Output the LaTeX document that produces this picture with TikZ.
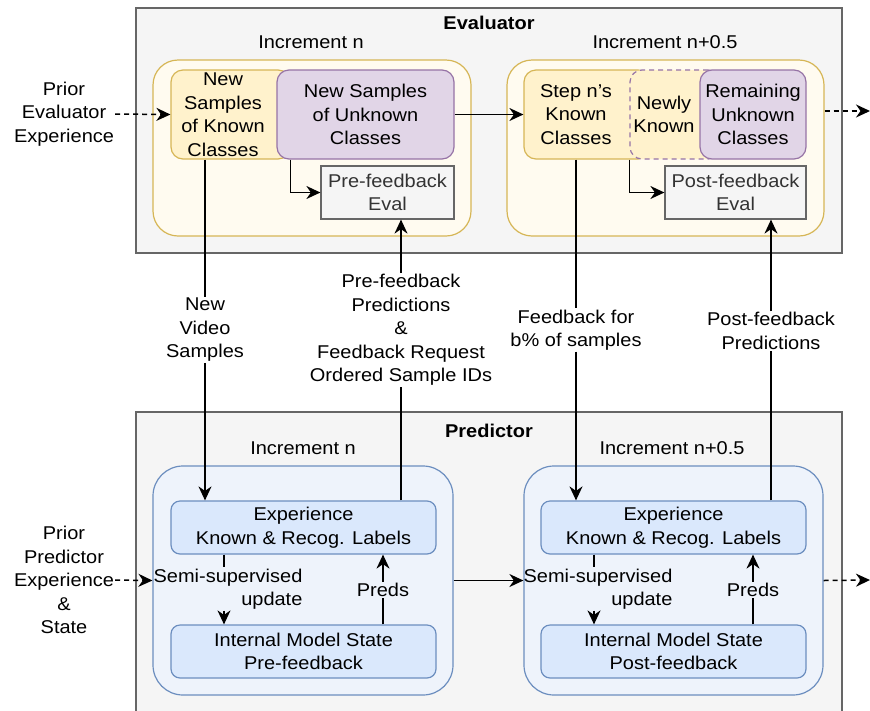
\documentclass[tikz,border=0pt]{standalone}
\usepackage{fontspec}
\setmainfont{Liberation Sans}[FakeStretch=1.08]
\usetikzlibrary{arrows.meta}
\definecolor{grayfill}{HTML}{F5F5F5}
\definecolor{graydraw}{HTML}{666666}
\definecolor{yelfill}{HTML}{FFF2CC}
\definecolor{yeldraw}{HTML}{D6B656}
\definecolor{yellight}{HTML}{FFFBF0}
\definecolor{purfill}{HTML}{E1D5E7}
\definecolor{purdraw}{HTML}{9673A6}
\definecolor{bluefill}{HTML}{DAE8FC}
\definecolor{bluedraw}{HTML}{6C8EBF}
\definecolor{bluelight}{HTML}{EEF3FB}
\definecolor{evaltext}{HTML}{333333}
\begin{document}
\begin{tikzpicture}[x=1pt,y=-1pt,font=\fontsize{18.5}{23.5}\selectfont,
  every node/.style={align=center,inner sep=1pt},
  outerbox/.style={draw=graydraw,fill=grayfill,line width=1.2pt,minimum width=706,inner sep=0pt},
  incbox/.style={draw=yeldraw,fill=yellight,line width=1.2pt,rounded corners=25pt,minimum height=176,inner sep=0pt},
  pincbox/.style={draw=bluedraw,fill=bluelight,line width=1.2pt,rounded corners=30pt,minimum height=229,inner sep=0pt},
  knownbox/.style={draw=yeldraw,fill=yelfill,line width=1.2pt,rounded corners=12pt,minimum height=89,inner sep=0pt},
  unkbox/.style={draw=purdraw,fill=purfill,line width=1.2pt,rounded corners=12pt,minimum height=89,inner sep=0pt},
  evalbox/.style={draw=graydraw,fill=grayfill,line width=1.2pt,minimum height=53,text=evaltext},
  predbox/.style={draw=bluedraw,fill=bluefill,line width=1.2pt,rounded corners=9pt,minimum width=265,minimum height=53},
  boxtitle/.style={font=\fontsize{18.5}{23.5}\selectfont\bfseries},
  line/.style={line width=1.5pt},
  tip/.tip={Stealth[length=14pt,width=13pt,inset=4.5pt]},
  conn/.style={line width=1.5pt,-tip},
  dconn/.style={line width=1.5pt,-tip,dash pattern=on 5pt off 4pt}]
\clip(0,0) rectangle (870,710);
\fill[white](0,0) rectangle (870,710);
% evaluator
\node[outerbox,minimum height=245](evaluator) at (489,130.5) {};
\node[boxtitle](evtitle) at (489,23) {Evaluator};
\node(evincn) at (311,42) {Increment n};
\node(evinch) at (665,42) {Increment n+0.5};
\node[incbox,minimum width=318](incL) at (312,148) {};
\node[incbox,minimum width=317](incR) at (665.5,148) {};
\node[knownbox,minimum width=119](knownL) at (230.5,114.5) {};
\node(knownLtxt) at (223,114.5) {New\\Samples\\of Known\\Classes};
\node[unkbox,minimum width=177](unkL) at (365.5,114.5) {New Samples\\of Unknown\\Classes};
\node[evalbox,minimum width=133](evalL) at (387.5,192.5) {Pre-feedback\\Eval};
\node[knownbox,minimum width=126](knownR) at (587,114.5) {};
\node(knownRtxt) at (576,114.5) {Step n's\\Known\\Classes};
\node[knownbox,draw=purdraw,dash pattern=on 5pt off 4pt,minimum width=90](newlyR) at (675,114.5) {};
\node(newlyRtxt) at (664,114.5) {Newly\\Known};
\node[unkbox,minimum width=106](remR) at (753,114.5) {Remaining\\Unknown\\Classes};
\node[evalbox,minimum width=141](evalR) at (735.5,192.5) {Post-feedback\\Eval};
\node(priorE) at (64,114) {Prior\\Evaluator\\Experience};
\coordinate(outE) at (870,111);
\draw[dconn](priorE.east)--(knownL.west);
\draw[conn](unkL.east)--(knownR.west);
\draw[dconn](incR.east|-outE)--(outE);
\draw[conn](unkL.south-|knownL.east)|-(evalL.west);
\draw[conn](newlyR.south west)|-(evalR.west);
% predictor
\node[outerbox,minimum height=308](predictor) at (489,566) {};
\node[boxtitle](prtitle) at (489,431) {Predictor};
\node(princn) at (303,448) {Increment n};
\node(princh) at (672,448) {Increment n+0.5};
\node[pincbox,minimum width=300](pincL) at (303,580.5) {};
\node[pincbox,minimum width=299](pincR) at (673.5,580.5) {};
\node[predbox](expL) at (303.5,527.5) {Experience\\Known \& Recog. Labels};
\node[predbox](imsL) at (303.5,651.5) {Internal Model State\\Pre-feedback};
\node[predbox](expR) at (673.5,527.5) {Experience\\Known \& Recog. Labels};
\node[predbox](imsR) at (673.5,651.5) {Internal Model State\\Post-feedback};
\node(priorP) at (64,580) {Prior\\Predictor\\Experience\\\&\\State};
\coordinate(outP) at (870,580);
\draw[dconn](priorP.east)--(pincL.west);
\draw[conn](pincL.east)--(pincR.west);
\draw[dconn](pincR.east)--(outP);
\coordinate(ssL) at (224,589);
\node[align=right](lblssL) at (228,589) {Semi-supervised\\update};
\draw[line](expL.south-|ssL)--(lblssL.north-|ssL);
\draw[conn](lblssL.south-|ssL)--(imsL.north-|ssL);
\node(lblprL) at (383,590) {Preds};
\draw[line](imsL.north-|lblprL)--(lblprL);
\draw[conn](lblprL)--(expL.south-|lblprL);
\coordinate(ssR) at (594,589);
\node[align=right](lblssR) at (598,589) {Semi-supervised\\update};
\draw[line](expR.south-|ssR)--(lblssR.north-|ssR);
\draw[conn](lblssR.south-|ssR)--(imsR.north-|ssR);
\node(lblprR) at (753,590) {Preds};
\draw[line](imsR.north-|lblprR)--(lblprR);
\draw[conn](lblprR)--(expR.south-|lblprR);
% between evaluator and predictor
\node(lblvid) at (205,330) {New\\Video\\Samples};
\draw[line](knownL.south-|lblvid)--(lblvid);
\draw[conn](lblvid)--(expL.north-|lblvid);
\node(lblpre) at (401,330) {Pre-feedback\\Predictions\\\&\\Feedback Request\\Ordered Sample IDs};
\draw[line](expL.north-|lblpre)--(lblpre);
\draw[conn](lblpre)--(evalL.south-|lblpre);
\node(lblfb) at (576,330) {Feedback for\\b\% of samples};
\draw[line](knownR.south-|lblfb)--(lblfb);
\draw[conn](lblfb)--(expR.north-|lblfb);
\node(lblpost) at (771,331) {Post-feedback\\Predictions};
\draw[line](expR.north-|lblpost)--(lblpost);
\draw[conn](lblpost)--(evalR.south-|lblpost);
\end{tikzpicture}
\end{document}
